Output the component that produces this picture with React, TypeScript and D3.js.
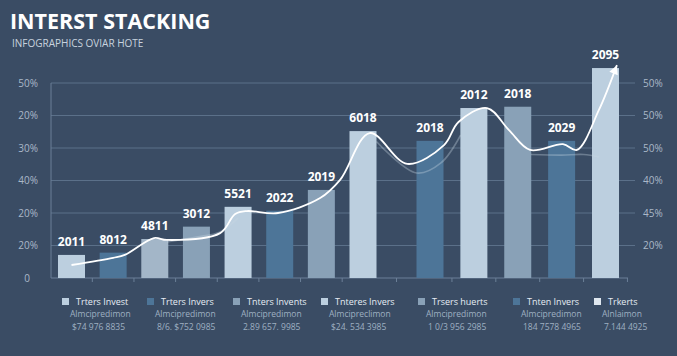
import React from "react";
import * as d3 from "d3";

const W = 677;
const H = 356;

const barLabels = ["2011", "8012", "4811", "3012", "5521", "2022", "2019", "6018", "2018", "2012", "2018", "2029", "2095"];
const barValues = [7.1, 7.8, 12.0, 15.8, 21.9, 20.7, 27.1, 45.2, 42.2, 52.3, 52.7, 42.2, 64.6];
const barShades = ["light", "dark", "soft", "mid", "light", "dark", "mid", "light", "dark", "light", "mid", "dark", "light"];

const gridValues = [0, 10, 20, 30, 40, 50, 60];
const leftTickLabels = ["0", "20%", "20%", "40%", "30%", "20%", "50%"];
const rightTickLabels = ["", "20%", "45%", "40%", "50%", "50%", "50%"];

// main trend line: [category position, value]
const lineIdx = [0, 1.0, 1.28, 1.98, 2.29, 3.57, 3.93, 4.21, 4.96, 5.97, 6.45, 7.1, 7.66, 8.32, 8.65, 9.3, 9.8, 10.28, 11.03, 11.35, 11.85, 12.26];
const lineVal = [4.0, 6.2, 7.1, 12.3, 11.7, 13.8, 19.7, 20.6, 20.0, 24.6, 30.2, 44.6, 35.1, 40.9, 48.0, 52.3, 45.5, 39.4, 41.2, 39.4, 51.7, 65.5];

// faint echo line segments
const echoAIdx = [2.29, 3.0, 3.57, 4.0];
const echoAVal = [11.1, 12.6, 14.2, 18.5];
const echoBIdx = [7.2, 7.8, 8.25, 8.7];
const echoBVal = [42.0, 32.3, 35.4, 44.0];
const echoCIdx = [10.3, 11.0, 11.5, 11.86];
const echoCVal = [38.0, 37.8, 38.0, 37.2];

const legendNames = ["Trters Invest", "Trters Invers", "Tnters Invents", "Tnteres Invers", "Trsers huerts", "Tnten Invers", "Trkerts"];
const legendSubs = ["Almcipredimon", "Almcipredimon", "Almcipredimon", "Almcipreclimon", "Almcipredimon", "Almcipredimon", "Alnlaimon"];
const legendNums = ["$74 976 8835", "8/6. $752 0985", "2.89 657. 9985", "$24. 534 3985", "1 0/3 956 2985", "184 7578 4965", "7.144 4925"];
const legendShades = ["light", "dark", "mid", "light", "mid", "dark", "white"];

const shadeColor: Record<string, string> = {
  light: "#bccfdf",
  dark: "#4d7598",
  soft: "#a3b6c8",
  mid: "#89a1b7",
  white: "#dfe7ef",
};

export default function App() {
  const x = d3.scaleLinear().domain([0, 7, 8, 12]).range([71.5, 363, 430, 605.5]);
  const y = d3.scaleLinear().domain([0, 60]).range([278, 83]);
  const bw = 27;

  const line = d3
    .line<[number, number]>()
    .x((d) => x(d[0]))
    .y((d) => y(d[1]))
    .curve(d3.curveCatmullRom.alpha(0.5));

  const zip = (a: number[], b: number[]): [number, number][] => a.map((v, i) => [v, b[i]]);
  const mainPts = zip(lineIdx, lineVal);
  const echoSegs = [zip(echoAIdx, echoAVal), zip(echoBIdx, echoBVal), zip(echoCIdx, echoCVal)];

  const last = mainPts[mainPts.length - 1];
  const prev = mainPts[mainPts.length - 2];
  const ax = x(last[0]);
  const ay = y(last[1]);
  const ang = Math.atan2(ay - y(prev[1]), ax - x(prev[0]));

  const tickIdx = d3.range(barValues.length).map((i) => i + 0.5);

  const legendX = d3.scaleOrdinal<number, number>().domain(d3.range(7)).range([62, 147, 233, 321, 418, 513, 594]);

  const font = "'Open Sans', 'Noto Sans', sans-serif";

  return (
    <svg width={W} height={H} style={{ position: "absolute", left: 0, top: 0, background: "#3a4c64" }} fontFamily={font}>
      <rect x={0} y={0} width={W} height={H} fill="#3a4c64" />
      <text x={10} y={29} fill="#ffffff" fontSize={21.5} fontWeight={700}>INTERST STACKING</text>
      <text x={12} y={47} fill="#c8d3df" fontSize={10}>INFOGRAPHICS OVIAR HOTE</text>

      {gridValues.slice(1).map((g) => (
        <line key={"g" + g} x1={51} x2={635} y1={y(g)} y2={y(g)} stroke="#5b7089" strokeWidth={1} />
      ))}
      <line x1={51} x2={51} y1={y(60)} y2={y(0)} stroke="#6b7f97" strokeWidth={1} />
      <line x1={51} x2={628} y1={y(0)} y2={y(0)} stroke="#6b7f97" strokeWidth={1.2} />
      {tickIdx.map((t, i) => (
        <line key={"t" + i} x1={x(t)} x2={x(t)} y1={y(0)} y2={y(0) + 4} stroke="#6b7f97" />
      ))}

      {gridValues.map((g, i) => (
        <text key={"l" + i} x={i === 0 ? 30 : 38} y={y(g) + 3.5} fill="#aab8c8" fontSize={10} textAnchor="end">
          {leftTickLabels[i]}
        </text>
      ))}
      {gridValues.map((g, i) => (
        <text key={"r" + i} x={643} y={y(g) + 3.5} fill="#aab8c8" fontSize={10}>
          {rightTickLabels[i]}
        </text>
      ))}

      {barValues.map((v, i) => (
        <rect key={"b" + i} x={x(i) - bw / 2} y={y(v)} width={bw} height={y(0) - y(v)} fill={shadeColor[barShades[i]]} />
      ))}

      {echoSegs.map((s, i) => (
        <path key={"e" + i} d={line(s) || ""} fill="none" stroke="#c9d6e2" strokeOpacity={0.35} strokeWidth={1.6} />
      ))}
      <path d={line(mainPts) || ""} fill="none" stroke="#ffffff" strokeWidth={1.8} />
      <path
        d={`M0,0 L-9,-4.5 L-9,4.5 Z`}
        fill="#ffffff"
        transform={`translate(${ax},${ay}) rotate(${(ang * 180) / Math.PI})`}
      />

      {barValues.map((v, i) => (
        <text key={"bl" + i} x={x(i)} y={y(v) - 9} fill="#ffffff" fontSize={12} fontWeight={700} textAnchor="middle">
          {barLabels[i]}
        </text>
      ))}

      {legendNames.map((n, i) => (
        <g key={"lg" + i} transform={`translate(${legendX(i)},0)`}>
          <rect x={0} y={298} width={7} height={7} fill={shadeColor[legendShades[i]]} />
          <text x={14} y={305} fill="#e6edf4" fontSize={9}>{n}</text>
          <text x={8} y={317} fill="#9fb0c2" fontSize={8.5}>{legendSubs[i]}</text>
          <text x={10} y={330} fill="#9fb0c2" fontSize={8.5}>{legendNums[i]}</text>
        </g>
      ))}
    </svg>
  );
}
